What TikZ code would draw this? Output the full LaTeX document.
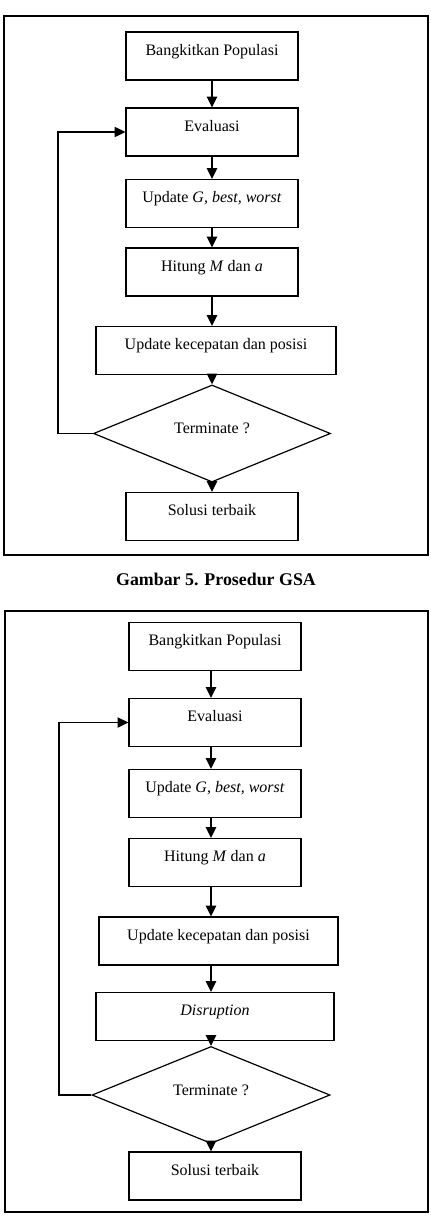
\documentclass[tikz,border=0pt]{standalone}
\usepackage{fontspec}
\setmainfont{Liberation Serif}
\usetikzlibrary{shapes.geometric,arrows.meta}

\tikzset{every picture/.style={line width=0.75pt}}
\tikzset{
	procbox/.style={draw, line width=0.9pt, inner sep=0pt, minimum height=36pt,
		text height=17.4pt, text depth=18.6pt, font=\fontsize{12}{14}\selectfont},
	decision/.style={draw, diamond, line width=0.9pt, inner sep=0pt,
		text height=8pt, text depth=8pt, font=\fontsize{12}{14}\selectfont},
	flow/.style={line width=1.5pt, -{Triangle[length=8pt,width=7.5pt]}},
	backline/.style={line width=1.3pt, -{Triangle[length=8pt,width=7.5pt]}},
	frame/.style={line width=1.1pt}}

\begin{document}
\begin{tikzpicture}[x=0.75pt,y=0.75pt,yscale=-1,xscale=1]
	\useasboundingbox (0,0) rectangle (431,1220);

	%Shape: Frame [id:top]
	\draw [frame] (4,16) rectangle (428,555);

	% Process nodes (GSA)
	\node [procbox, minimum width=129pt] (bp1) at (212,56) {Bangkitkan Populasi};
	\node [procbox, minimum width=129pt] (ev1) at (212,132) {Evaluasi};
	\node [procbox, minimum width=129pt] (ug1) at (212,203.5) {Update \textit{G, best, worst}};
	\node [procbox, minimum width=129pt] (hm1) at (212,272) {Hitung \textit{M} dan \textit{a}};
	\node [procbox, minimum width=180pt] (uk1) at (216,350.5) {Update kecepatan dan posisi};
	\node [decision, minimum width=177.75pt, minimum height=51.75pt] (dm1) at (212,433.5) {Terminate ?};
	\node [procbox, minimum width=129pt] (sl1) at (212,516.5) {Solusi terbaik};

	%Straight Lines
	\draw [flow] (bp1.south) -- (ev1.north);
	\draw [flow] (ev1.south) -- (ug1.north);
	\draw [flow] (ug1.south) -- (hm1.north);
	\draw [flow] (hm1.south) -- (hm1.south |- uk1.north);
	\draw [flow] (uk1.south -| dm1.north) -- (dm1.north);
	\draw [flow] (dm1.south) -- (sl1.north);
	\coordinate (lp1) at (58,433.5);
	\draw [backline] (dm1.west) -- (lp1) |- (ev1.west);

	% Text Node
	\node [font=\bfseries\fontsize{13.4}{16}\selectfont] (cap1) at (216,579) {Gambar 5. Prosedur GSA};

	%Shape: Frame [id:bottom]
	\draw [frame] (5,611) rectangle (428,1212);

	% Process nodes (with disruption)
	\node [procbox, minimum width=129pt] (bp2) at (215,646.5) {Bangkitkan Populasi};
	\node [procbox, minimum width=129pt] (ev2) at (215,722.5) {Evaluasi};
	\node [procbox, minimum width=129pt] (ug2) at (215,793.5) {Update \textit{G, best, worst}};
	\node [procbox, minimum width=129pt] (hm2) at (215,862.5) {Hitung \textit{M} dan \textit{a}};
	\node [procbox, minimum width=179.25pt] (uk2) at (218.5,941) {Update kecepatan dan posisi};
	\node [procbox, minimum width=178.5pt] (ds2) at (215,1016.5) {\textit{Disruption}};
	\node [decision, minimum width=178.5pt, minimum height=51pt] (dm2) at (211,1095) {Terminate ?};
	\node [procbox, minimum width=129pt] (sl2) at (215,1176) {Solusi terbaik};

	%Straight Lines
	\draw [flow] (bp2.south -| dm2.north) -- (ev2.north -| dm2.north);
	\draw [flow] (ev2.south -| dm2.north) -- (ug2.north -| dm2.north);
	\draw [flow] (ug2.south -| dm2.north) -- (hm2.north -| dm2.north);
	\draw [flow] (hm2.south -| dm2.north) -- (uk2.north -| dm2.north);
	\draw [flow] (uk2.south -| dm2.north) -- (ds2.north -| dm2.north);
	\draw [flow] (ds2.south -| dm2.north) -- (dm2.north);
	\draw [flow] (dm2.south) -- (sl2.north -| dm2.south);
	\coordinate (lp2) at (59,1095);
	\draw [backline] (dm2.west) -- (lp2) |- (ev2.west);

\end{tikzpicture}
\end{document}
